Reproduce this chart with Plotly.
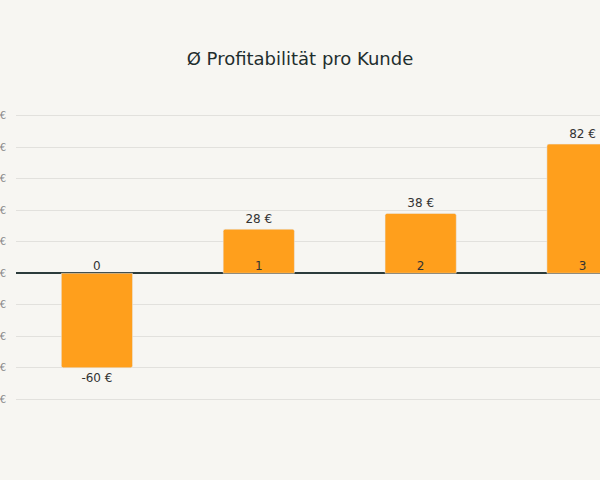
import plotly.graph_objects as go

kategorien = [0, 1, 2, 3]
profit = [-60, 28, 38, 82]
profit_text = ['-60 €', '28 €', '38 €', '82 €']
kategorie_labels = ['0', '1', '2', '3']
null_linie = [0, 0, 0, 0]

fig = go.Figure()

fig.add_trace(go.Bar(
    x=kategorien,
    y=profit,
    text=profit_text,
    textposition='outside',
    textfont=dict(size=12, color='#333333'),
    marker=dict(color='#FF9F1C', cornerradius=2),
    width=0.44,
    cliponaxis=False,
    hoverinfo='skip',
))

# Kategorie-Nummern direkt an der Nulllinie
fig.add_trace(go.Scatter(
    x=kategorien,
    y=null_linie,
    mode='text',
    text=kategorie_labels,
    textposition='top center',
    textfont=dict(size=12, color='#333333'),
    hoverinfo='skip',
))

fig.update_layout(
    width=600,
    height=480,
    title=dict(text='Ø Profitabilität pro Kunde', x=0.5, y=0.89, xanchor='center',
               font=dict(size=18, color='#1f2e2e')),
    font=dict(family='DejaVu Sans', size=12, color='#333333'),
    paper_bgcolor='#f7f6f2',
    plot_bgcolor='#f7f6f2',
    showlegend=False,
    margin=dict(l=16, r=0, t=100, b=65, autoexpand=False),
    xaxis=dict(range=[-0.5, 3.108], showticklabels=False, showgrid=False, zeroline=False,
               automargin=False),
    yaxis=dict(range=[-90, 110], dtick=20, ticksuffix=' €', gridcolor='#e2e1dd',
               zeroline=True, zerolinecolor='#2b3b3b', zerolinewidth=1.5, automargin=False,
               ticklabelstandoff=9, tickfont=dict(size=10, color='#888888')),
)

fig.write_html('out.html', config={'displayModeBar': False},
               post_script="document.body.style.margin='0';")
